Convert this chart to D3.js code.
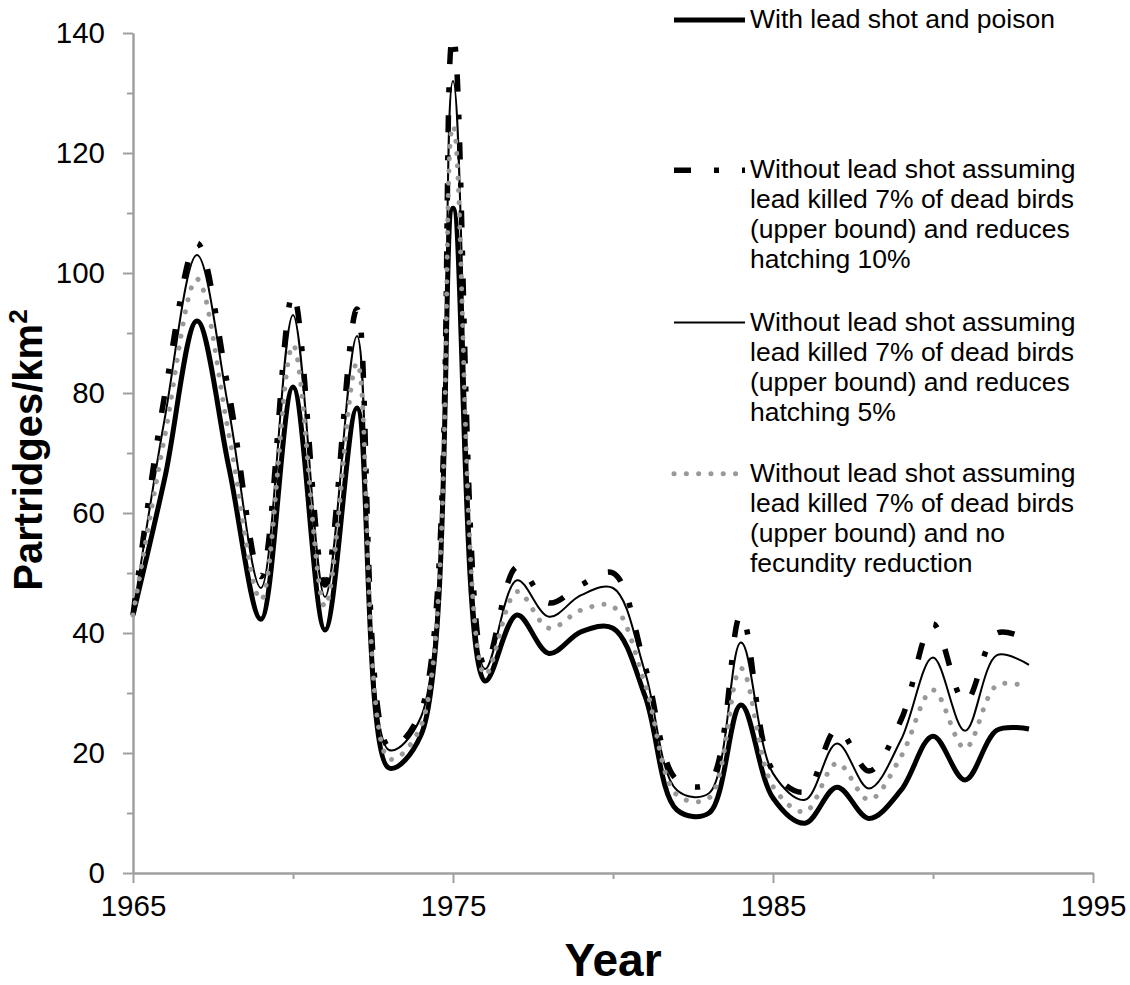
<!DOCTYPE html>
<html><head><meta charset="utf-8">
<script src="https://cdn.jsdelivr.net/npm/d3@7"></script>
<style>
body{margin:0;background:#fff;}
svg{display:block;font-family:"Liberation Sans",Arial,sans-serif;}
</style></head><body>
<svg id="chart" width="1130" height="985"></svg>
<script>
// ---- data ----
const years = [1965,1966,1967,1968,1969,1970,1971,1972,1973,1974,1975,1976,1977,1978,1979,
               1980,1981,1982,1983,1984,1985,1986,1987,1988,1989,1990,1991,1992,1993];
const withLeadShot = [43,66,92,67.5,42.3,81,40.5,77.5,17.5,23,110.8,32,43,36.6,40.2,
                      40.8,29.5,10.5,10,28,12.5,8.3,14.3,9.1,13.8,22.8,15.5,23.8,24];
const hatching10   = [43,80,105,80,49.4,96.5,48,94,21,27,139.5,34.5,51,45,48,
                      50,34.5,15.5,15,43,17,13.5,24,17,25.5,41.5,28.5,40,38.8];
const hatching5    = [43,76,103,77,47.5,93,46,89.5,20.5,26,132,34,48.8,42.7,46.3,
                      47.5,33.5,13.8,13.3,38.4,16.6,12.2,21.6,14.1,22.2,35.9,23.7,36.3,34.7];
const noFecundity  = [43,73,99,73,45.5,88,44.4,85,19,24.5,124.5,33,46.9,40.8,43.8,
                      44.4,31.5,13,12.5,34.1,14.4,10.2,18.3,12.2,19.4,30.5,20.8,31.3,31];
const xTicksMajor = [1965,1975,1985,1995];
const xTicksMinor = [1970,1980,1990];
const yTicksMajor = [0,20,40,60,80,100,120,140];
const yTicksMinor = [10,30,50,70,90,110,130];
const legendTexts = [
  ["With lead shot and poison"],
  ["Without lead shot assuming","lead killed 7% of dead birds","(upper bound) and reduces","hatching 10%"],
  ["Without lead shot assuming","lead killed 7% of dead birds","(upper bound) and reduces","hatching 5%"],
  ["Without lead shot assuming","lead killed 7% of dead birds","(upper bound) and no","fecundity reduction"]
];
const xTitle = "Year";
const yTitle = "Partridges/km";

// ---- styles ----
const seriesStyles = [
  {data: withLeadShot, stroke:"#000", width:5,   dash:null,          cap:"butt"},
  {data: hatching10,   stroke:"#000", width:5.5, dash:"17,23,5,23",  cap:"butt"},
  {data: hatching5,    stroke:"#000", width:2,   dash:null,          cap:"butt"},
  {data: noFecundity,  stroke:"#999", width:5,   dash:"0.1,12.2",    cap:"round"}
];
const axisColor = "#a0a0a0";

const svg = d3.select("#chart");
const x = d3.scaleLinear().domain([1965,1995]).range([133,1093]);
const y = d3.scaleLinear().domain([0,140]).range([873,33]);

// axes
function styleAxis(g){
  g.select(".domain").attr("stroke",axisColor).attr("stroke-width",2);
  g.selectAll(".tick line").attr("stroke",axisColor).attr("stroke-width",2);
  g.selectAll(".tick text").attr("fill","#000").style("font-size","29.5px")
    .style("font-family",'"Liberation Sans",Arial,sans-serif');
}
const yMinor = svg.append("g").attr("transform","translate(133,0)")
  .call(d3.axisLeft(y).tickValues(yTicksMinor).tickSize(6).tickSizeOuter(0).tickFormat(""));
styleAxis(yMinor);
const yMajor = svg.append("g").attr("transform","translate(133,0)")
  .call(d3.axisLeft(y).tickValues(yTicksMajor).tickSize(10).tickSizeOuter(0).tickPadding(18).tickFormat(d3.format("d")));
styleAxis(yMajor);
const xMinor = svg.append("g").attr("transform","translate(0,873)")
  .call(d3.axisBottom(x).tickValues(xTicksMinor).tickSize(6).tickSizeOuter(0).tickFormat(""));
styleAxis(xMinor);
const xMajor = svg.append("g").attr("transform","translate(0,873)")
  .call(d3.axisBottom(x).tickValues(xTicksMajor).tickSize(10).tickSizeOuter(0).tickPadding(12).tickFormat(d3.format("d")));
styleAxis(xMajor);

// lines
const line = d3.line().x((d,i)=>x(years[i])).y(d=>y(d)).curve(d3.curveCatmullRom.alpha(0.5));
seriesStyles.forEach(s=>{
  svg.append("path").attr("d", line(s.data)).attr("fill","none")
    .attr("stroke", s.stroke).attr("stroke-width", s.width)
    .attr("stroke-linecap", s.cap).attr("stroke-linejoin","round")
    .attr("stroke-dasharray", s.dash);
});

// titles
svg.append("text").attr("x",613).attr("y",976).attr("text-anchor","middle")
  .style("font-size","46px").style("font-weight","bold").text(xTitle);
const yt = svg.append("text").attr("transform","translate(42,450) rotate(-90)")
  .attr("text-anchor","middle").style("font-size","40px").style("font-weight","bold");
yt.append("tspan").text(yTitle);
yt.append("tspan").attr("dy",-15).style("font-size","26px").text("2");

// legend
const legendBaselines = [28, 178.3, 330.5, 481.7];
const lineGap = 30;
legendTexts.forEach((lines,i)=>{
  const s = seriesStyles[i];
  const by = legendBaselines[i];
  svg.append("line").attr("x1",674).attr("x2",745).attr("y1",by-8).attr("y2",by-8)
    .attr("stroke",s.stroke).attr("stroke-width",s.width).attr("stroke-linecap",s.cap)
    .attr("stroke-dasharray",s.dash);
  const t = svg.append("text").attr("x",750).attr("y",by).style("font-size","26.5px").attr("fill","#000");
  lines.forEach((l,j)=>{
    t.append("tspan").attr("x",750).attr("y",by + j*lineGap).text(l);
  });
});
</script>
</body></html>
